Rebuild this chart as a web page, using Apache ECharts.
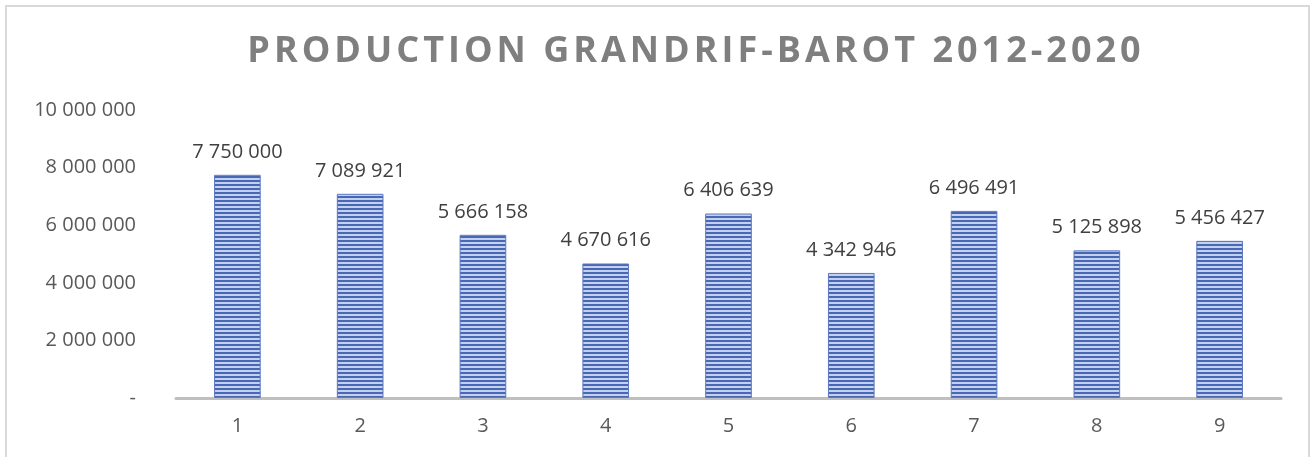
<!DOCTYPE html>
<html>
<head>
<meta charset="utf-8">
<script src="https://cdn.jsdelivr.net/npm/echarts@6/dist/echarts.min.js"></script>
<style>
  body { margin: 0; background: #fff; }
  #frame {
    position: absolute; left: 5px; top: 5px; width: 1301px; height: 460px;
    border-top: 2px solid #d9d9d9; border-left: 2px solid #d9d9d9; border-right: 2px solid #d9d9d9;
  }
  #title {
    position: absolute; left: 0; width: 1392px; top: 29px; text-align: center;
    font-family: "Open Sans", sans-serif; font-weight: bold; font-size: 36px; line-height: 40px;
    letter-spacing: 4px; color: #7f7f7f; margin: 0;
  }
  #main { position: absolute; left: 0; top: 0; width: 1310px; height: 457px; }
</style>
</head>
<body>
<div id="frame"></div>
<div id="main"></div>
<div id="title">PRODUCTION GRANDRIF-BAROT 2012-2020</div>
<script type="text/javascript">
    // données
    var categories = ['1', '2', '3', '4', '5', '6', '7', '8', '9'];
    var production = [7750000, 7089921, 5666158, 4670616, 6406639, 4342946, 6496491, 5125898, 5456427];
    var yTicks = [0, 2000000, 4000000, 6000000, 8000000, 10000000];

    function fmt(v) {
        if (v === 0) return '-';
        return String(v).replace(/\B(?=(\d{3})+(?!\d))/g, ' ');
    }

    // motif rayé horizontal pour les barres
    var pat = document.createElement('canvas');
    pat.width = 4; pat.height = 4;
    var ctx = pat.getContext('2d');
    ctx.fillStyle = '#c3d0ee';
    ctx.fillRect(0, 0, 4, 4);
    ctx.fillStyle = '#4868b6';
    ctx.fillRect(0, 0, 4, 2);

    var myChart = echarts.init(document.getElementById('main'));
    var option = {
        animation: false,
        grid: { left: 176, right: 29, top: 110, bottom: 59 },
        xAxis: {
            type: 'category',
            data: categories,
            axisLine: { lineStyle: { color: '#bfbfbf', width: 3 } },
            axisTick: { show: false },
            axisLabel: { color: '#595959', fontSize: 20, fontFamily: 'Open Sans', margin: 18 }
        },
        yAxis: {
            type: 'value',
            min: yTicks[0],
            max: yTicks[yTicks.length - 1],
            interval: yTicks[1] - yTicks[0],
            splitLine: { show: false },
            axisLine: { show: false },
            axisLabel: {
                color: '#595959', fontSize: 20, fontFamily: 'Open Sans', margin: 40,
                formatter: fmt
            }
        },
        series: [{
            type: 'bar',
            data: production,
            barWidth: '38%',
            itemStyle: {
                color: { image: pat, repeat: 'repeat' },
                borderColor: '#5b78bd',
                borderWidth: 1
            },
            label: {
                show: true,
                position: 'top',
                distance: 13,
                color: '#404040',
                fontSize: 20,
                fontFamily: 'Open Sans',
                formatter: function (p) { return fmt(p.value); }
            }
        }]
    };
    myChart.setOption(option);
</script>
</body>
</html>
